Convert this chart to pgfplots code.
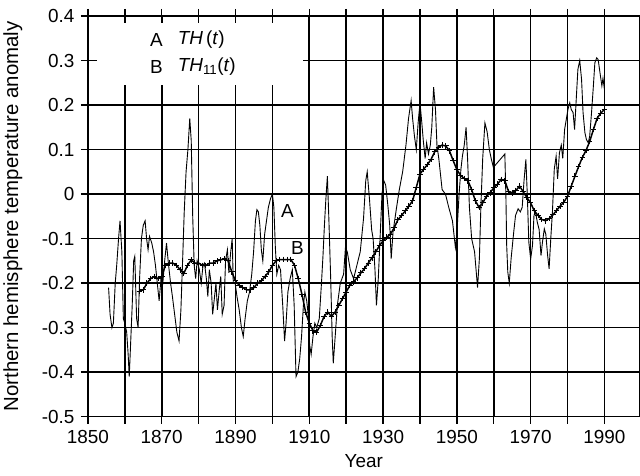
\documentclass[border=0pt]{standalone}
\usepackage{fontspec}
\setmainfont{Liberation Sans}
\usepackage{pgfplots}
\pgfplotsset{compat=1.18}
\begin{document}
\fontsize{19}{22}\selectfont
\begin{tikzpicture}
\begin{axis}[
    scale only axis,
    width=552bp, height=401bp,
    xmin=1850, xmax=1999.5,
    ymin=-0.5, ymax=0.4,
    xtick={1850,1870,1890,1910,1930,1950,1970,1990},
    xticklabels={1850,1870,1890,1910,1930,1950,1970,1990},
    minor xtick={1860,1880,1900,1920,1940,1960,1980},
    ytick={-0.5,-0.4,-0.3,-0.2,-0.1,0,0.1,0.2,0.3,0.4},
    yticklabels={-0.5,-0.4,-0.3,-0.2,-0.1,0,0.1,0.2,0.3,0.4},
    grid=both,
    major grid style={black, line width=1.6bp},
    minor grid style={black, line width=1.6bp},
    axis line style={line width=1.6bp},
    tick style={black, line width=1.4bp},
    tick align=center,
    major tick length=14bp,
    minor tick length=14bp,
    ticklabel style={font=\fontsize{19}{22}\selectfont},
    xlabel={Year},
    ylabel={Northern hemisphere temperature anomaly},
    xlabel style={at={(axis description cs:0.5,-0.112)}, anchor=center},
    ylabel style={at={(axis description cs:-0.136,0.5)}, anchor=center, font=\fontsize{20.5}{22}\selectfont},
]
% white box behind the key
\fill[white] (axis cs:1852.4,0.245) rectangle (axis cs:1908.3,0.385);
\node[anchor=center] at (axis cs:1868.6,0.346) {A};
\node[anchor=west, inner sep=0pt] at (axis cs:1874.3,0.346) {\textit{TH}\,(\textit{t})};
\node[anchor=center] at (axis cs:1868.6,0.286) {B};
\node[anchor=west, inner sep=0pt] at (axis cs:1874.3,0.286) {\textit{TH}\textsubscript{11}(\textit{t})};
\node[anchor=center] at (axis cs:1904.1,-0.037) {A};
\node[anchor=center] at (axis cs:1906.8,-0.12) {B};

% A: TH(t)
\addplot[black, line width=0.9bp, mark=none] table {
1855.6 -0.21
1856.0 -0.27
1856.5 -0.30
1856.9 -0.29
1857.4 -0.20
1857.8 -0.16
1858.3 -0.10
1858.7 -0.06
1859.2 -0.13
1859.6 -0.28
1860.0 -0.29
1860.5 -0.31
1860.9 -0.36
1861.2 -0.41
1861.6 -0.33
1862.0 -0.25
1862.4 -0.15
1862.7 -0.14
1863.2 -0.28
1863.6 -0.30
1864.0 -0.19
1864.5 -0.10
1865.0 -0.07
1865.5 -0.06
1865.9 -0.10
1866.3 -0.125
1866.7 -0.095
1867.3 -0.11
1867.8 -0.13
1868.3 -0.16
1868.8 -0.20
1869.3 -0.24
1869.8 -0.19
1870.3 -0.20
1870.8 -0.15
1871.3 -0.11
1871.8 -0.155
1872.4 -0.20
1872.9 -0.23
1873.5 -0.27
1874.1 -0.31
1874.7 -0.33
1875.2 -0.26
1875.7 -0.14
1876.1 -0.04
1876.6 0.05
1877.1 0.10
1877.6 0.17
1878.0 0.12
1878.4 -0.05
1878.8 -0.16
1879.2 -0.19
1879.6 -0.15
1880.2 -0.17
1880.7 -0.20
1881.2 -0.16
1881.6 -0.155
1882.1 -0.19
1882.5 -0.23
1882.9 -0.17
1883.4 -0.20
1883.8 -0.27
1884.2 -0.24
1884.7 -0.20
1885.1 -0.26
1885.6 -0.215
1886.0 -0.185
1886.4 -0.27
1886.9 -0.25
1887.3 -0.15
1887.8 -0.125
1888.2 -0.177
1888.7 -0.13
1889.1 -0.10
1889.4 -0.20
1889.9 -0.20
1890.4 -0.23
1891.0 -0.26
1891.6 -0.30
1892.1 -0.32
1892.6 -0.28
1893.2 -0.24
1893.8 -0.22
1894.4 -0.18
1894.9 -0.13
1895.4 -0.06
1895.8 -0.035
1896.2 -0.04
1896.6 -0.07
1897.0 -0.125
1897.4 -0.15
1897.9 -0.09
1898.4 -0.06
1898.9 -0.03
1899.5 -0.01
1900.0 0.00
1900.4 -0.03
1900.8 -0.12
1901.2 -0.18
1901.7 -0.16
1902.2 -0.17
1902.8 -0.25
1903.3 -0.33
1903.7 -0.29
1904.2 -0.22
1904.8 -0.19
1905.4 -0.17
1905.9 -0.25
1906.4 -0.41
1906.9 -0.40
1907.4 -0.37
1907.9 -0.32
1908.4 -0.25
1908.8 -0.22
1909.3 -0.24
1909.7 -0.27
1910.1 -0.34
1910.5 -0.36
1911.0 -0.32
1911.5 -0.29
1912.0 -0.30
1912.7 -0.28
1913.3 -0.20
1913.7 -0.14
1914.1 -0.07
1914.5 -0.01
1914.9 0.04
1915.3 -0.055
1915.8 -0.19
1916.2 -0.32
1916.5 -0.38
1917.1 -0.31
1917.6 -0.25
1918.4 -0.20
1919.3 -0.18
1919.8 -0.12
1920.3 -0.13
1921.1 -0.17
1922.0 -0.19
1922.9 -0.16
1923.8 -0.13
1924.7 -0.055
1925.3 0.03
1925.7 0.05
1926.3 -0.01
1926.9 -0.08
1927.3 -0.10
1927.8 -0.17
1928.2 -0.25
1928.7 -0.19
1929.1 -0.115
1929.7 0.00
1930.2 0.03
1930.7 0.02
1931.3 -0.026
1931.8 -0.07
1932.2 -0.145
1932.7 -0.085
1933.6 -0.033
1934.4 0.01
1935.3 0.05
1936.2 0.11
1936.9 0.17
1937.6 0.21
1938.0 0.17
1938.5 0.13
1939.0 0.10
1939.5 0.16
1940.0 0.205
1940.5 0.16
1940.9 0.12
1941.4 0.08
1941.8 0.115
1942.3 0.09
1942.8 0.11
1943.2 0.15
1943.7 0.24
1944.2 0.19
1944.6 0.11
1945.1 0.08
1946.0 0.01
1946.9 0.00
1947.8 -0.03
1948.8 -0.06
1949.2 -0.09
1949.6 -0.12
1950.0 -0.09
1950.6 0.00
1951.1 0.056
1951.5 0.085
1952.0 0.11
1952.5 0.15
1952.9 0.08
1953.4 -0.03
1954.0 -0.10
1954.8 -0.13
1955.2 -0.17
1955.6 -0.21
1956.1 -0.145
1956.5 -0.03
1957.0 0.08
1957.6 0.16
1958.2 0.14
1958.8 0.10
1959.3 0.08
1959.9 0.06
1963.0 0.09
1963.3 -0.01
1963.5 -0.115
1963.8 -0.175
1964.2 -0.20
1964.7 -0.145
1965.4 -0.086
1965.9 -0.048
1966.6 -0.033
1967.2 -0.04
1967.7 -0.03
1968.2 0.03
1968.7 0.078
1969.1 -0.004
1969.5 -0.108
1970.0 -0.146
1970.5 -0.115
1970.9 -0.048
1971.3 -0.04
1971.8 -0.063
1972.3 -0.08
1972.8 -0.138
1973.2 -0.108
1973.7 -0.078
1974.1 -0.09
1974.6 -0.138
1975.0 -0.168
1975.5 -0.093
1975.9 -0.04
1976.4 0.056
1976.9 0.085
1977.3 0.034
1977.8 0.093
1978.3 0.11
1978.7 0.08
1979.2 0.145
1979.6 0.165
1980.1 0.19
1980.6 0.205
1981.0 0.19
1981.5 0.183
1981.9 0.145
1982.4 0.22
1982.8 0.28
1983.3 0.30
1983.8 0.257
1984.2 0.183
1984.7 0.138
1985.1 0.123
1985.6 0.115
1986.0 0.13
1986.5 0.183
1987.0 0.243
1987.4 0.295
1987.9 0.306
1988.3 0.302
1988.8 0.272
1989.3 0.243
1989.6 0.26
1990.0 0.235
};

% B: TH11(t), 11-year running mean
\addplot[black, line width=1.5bp, mark=+, mark size=2.8bp, mark options={line width=1bp}] table {
1864 -0.218
1865 -0.215
1866 -0.200
1867 -0.190
1868 -0.185
1869 -0.190
1870 -0.185
1871 -0.160
1872 -0.155
1873 -0.155
1874 -0.160
1875 -0.170
1876 -0.178
1877 -0.160
1878 -0.148
1879 -0.155
1880 -0.155
1881 -0.160
1882 -0.160
1883 -0.155
1884 -0.155
1885 -0.150
1886 -0.148
1887 -0.145
1888 -0.150
1889 -0.175
1890 -0.195
1891 -0.205
1892 -0.210
1893 -0.215
1894 -0.215
1895 -0.210
1896 -0.200
1897 -0.195
1898 -0.185
1899 -0.175
1900 -0.160
1901 -0.150
1902 -0.147
1903 -0.147
1904 -0.147
1905 -0.147
1906 -0.160
1907 -0.190
1908 -0.225
1909 -0.265
1910 -0.290
1911 -0.307
1912 -0.310
1913 -0.295
1914 -0.275
1915 -0.265
1916 -0.275
1917 -0.265
1918 -0.250
1919 -0.235
1920 -0.220
1921 -0.205
1922 -0.197
1923 -0.188
1924 -0.177
1925 -0.167
1926 -0.155
1927 -0.143
1928 -0.130
1929 -0.116
1930 -0.105
1931 -0.097
1932 -0.090
1933 -0.076
1934 -0.058
1935 -0.048
1936 -0.038
1937 -0.027
1938 -0.015
1939 0.015
1940 0.045
1941 0.056
1942 0.066
1943 0.078
1944 0.095
1945 0.105
1946 0.110
1947 0.108
1948 0.097
1949 0.075
1950 0.055
1951 0.042
1952 0.035
1953 0.030
1954 0.010
1955 -0.015
1956 -0.030
1957 -0.020
1958 -0.005
1959 0.003
1960 0.014
1961 0.022
1962 0.033
1963 0.030
1964 0.006
1965 0.003
1966 0.008
1967 0.018
1968 0.005
1969 -0.008
1970 -0.020
1971 -0.038
1972 -0.048
1973 -0.057
1974 -0.060
1975 -0.055
1976 -0.047
1977 -0.037
1978 -0.027
1979 -0.018
1980 -0.005
1981 0.018
1982 0.040
1983 0.062
1984 0.082
1985 0.098
1986 0.118
1987 0.145
1988 0.170
1989 0.182
1990 0.190
};
\end{axis}
\pgfresetboundingbox
\path (-88bp,-59bp) rectangle (552.5bp,417bp);
\end{tikzpicture}
\end{document}
